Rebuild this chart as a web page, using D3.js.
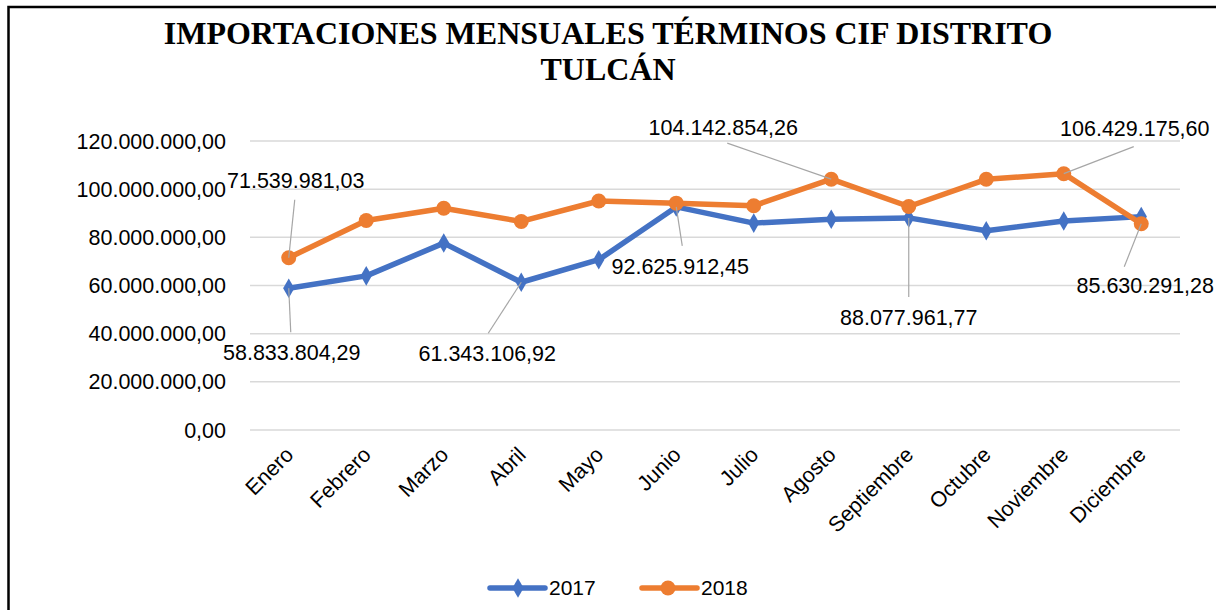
<!DOCTYPE html>
<html>
<head>
<meta charset="utf-8">
<script src="https://cdn.jsdelivr.net/npm/d3@7"></script>
<style>
  body { margin: 0; background: #fff; }
  svg { display: block; }
</style>
</head>
<body>
<div id="chart"></div>
<script>
//categories and series
const months = ["Enero", "Febrero", "Marzo", "Abril", "Mayo", "Junio", "Julio", "Agosto", "Septiembre", "Octubre", "Noviembre", "Diciembre"];
const values2017 = [58833804.29, 64000000, 77600000, 61343106.92, 70700000, 92625912.45, 85900000, 87500000, 88077961.77, 82700000, 86800000, 88600000];
const values2018 = [71539981.03, 87000000, 92100000, 86600000, 95100000, 94200000, 93100000, 104142854.26, 92800000, 104100000, 106429175.60, 85630291.28];
const yTicks = [0, 20000000, 40000000, 60000000, 80000000, 100000000, 120000000];

//which points carry a data label
const labeled2017 = [0, 3, 5, 8];
const labeled2018 = [0, 7, 10, 11];

//size
const width = 1216;
const height = 610;
const margin = { top: 141, right: 36, bottom: 180, left: 250 };
const innerWidth = width - margin.left - margin.right;
const innerHeight = 430 - margin.top;

const colors = { 2017: "#4472c4", 2018: "#ed7d31" };
const numFont = "'Liberation Sans', Arial, sans-serif";

//number format like 58.833.804,29
const locale = d3.formatLocale({ decimal: ",", thousands: ".", grouping: [3], currency: ["", ""] });
const fmt = locale.format(",.2f");

const svg = d3.select("#chart").append("svg")
  .attr("width", width)
  .attr("height", height);

//frame (only top and left edges are inside the picture)
svg.append("path")
  .attr("d", `M8.5,${height}V7H${width}`)
  .attr("fill", "none")
  .attr("stroke", "#000")
  .attr("stroke-width", 2.5);

//title
svg.append("text")
  .attr("text-anchor", "middle")
  .attr("font-family", "'Liberation Serif', 'Times New Roman', serif")
  .attr("font-weight", "bold")
  .attr("font-size", 32)
  .attr("fill", "#000")
  .call((t) => {
    t.append("tspan").attr("x", 608).attr("y", 44).text("IMPORTACIONES MENSUALES TÉRMINOS CIF DISTRITO");
    t.append("tspan").attr("x", 608).attr("y", 80).text("TULCÁN");
  });

//scales
const x = d3.scaleBand().domain(months).range([0, innerWidth]).padding(0);
const y = d3.scaleLinear().domain([0, 120000000]).range([innerHeight, 0]);
const cx = (m) => x(m) + x.bandwidth() / 2;

const g = svg.append("g").attr("transform", `translate(${margin.left},${margin.top})`);

//grid lines
g.append("g")
  .selectAll("line")
  .data(yTicks)
  .join("line")
  .attr("x1", 0).attr("x2", innerWidth)
  .attr("y1", (d) => y(d)).attr("y2", (d) => y(d))
  .attr("stroke", "#d9d9d9")
  .attr("stroke-width", 1.5);

//y axis labels
g.append("g")
  .selectAll("text")
  .data(yTicks)
  .join("text")
  .attr("x", -24)
  .attr("y", (d) => y(d))
  .attr("dy", "0.35em")
  .attr("text-anchor", "end")
  .attr("font-family", numFont)
  .attr("font-size", 21.5)
  .attr("fill", "#000")
  .text((d) => fmt(d));

//x axis labels
g.append("g")
  .selectAll("text")
  .data(months)
  .join("text")
  .attr("transform", (d) => `translate(${cx(d) + 6},${innerHeight + 26}) rotate(-45)`)
  .attr("text-anchor", "end")
  .attr("font-family", numFont)
  .attr("font-size", 21.5)
  .attr("fill", "#000")
  .text((d) => d);

//series
const series = [
  { name: "2017", values: values2017, labeled: labeled2017 },
  { name: "2018", values: values2018, labeled: labeled2018 },
];

const line = d3.line()
  .x((d, i) => cx(months[i]))
  .y((d) => y(d));

const diamond = d3.symbol().type(d3.symbolDiamond).size(110);

series.forEach((s) => {
  g.append("path")
    .datum(s.values)
    .attr("fill", "none")
    .attr("stroke", colors[s.name])
    .attr("stroke-width", 5.5)
    .attr("stroke-linejoin", "round")
    .attr("stroke-linecap", "round")
    .attr("d", line);

  const marks = g.append("g")
    .selectAll("g")
    .data(s.values)
    .join("g")
    .attr("transform", (d, i) => `translate(${cx(months[i])},${y(d)})`);

  if (s.name == "2017") {
    marks.append("path").attr("d", diamond).attr("fill", colors[s.name]);
  } else {
    marks.append("circle").attr("r", 7.5).attr("fill", colors[s.name]);
  }
});

//data label placement (offsets from the point: label centre and leader end)
const labelPos = {
  "2017-0": { dx: 3, dy: 64, lx: 2, ly: 44 },
  "2017-3": { dx: -34, dy: 71, lx: -33, ly: 51 },
  "2017-5": { dx: 4, dy: 60, lx: 6, ly: 39 },
  "2017-8": { dx: 0, dy: 100, lx: 0, ly: 79 },
  "2018-0": { dx: 7, dy: -77, lx: 6, ly: -58 },
  "2018-7": { dx: -108, dy: -52, lx: -104, ly: -36 },
  "2018-10": { dx: 71, dy: -45, lx: 70, ly: -27 },
  "2018-11": { dx: 4, dy: 62, lx: -17, ly: 43 },
};

const labels = series.flatMap((s) =>
  s.labeled.map((i) => ({ key: `${s.name}-${i}`, x: cx(months[i]), y: y(s.values[i]), value: s.values[i] }))
);

const lab = g.append("g")
  .selectAll("g")
  .data(labels)
  .join("g")
  .attr("transform", (d) => `translate(${d.x},${d.y})`);

lab.append("line")
  .attr("x1", 0).attr("y1", 0)
  .attr("x2", (d) => labelPos[d.key].lx)
  .attr("y2", (d) => labelPos[d.key].ly)
  .attr("stroke", "#a6a6a6")
  .attr("stroke-width", 1.2);

lab.append("text")
  .attr("x", (d) => labelPos[d.key].dx)
  .attr("y", (d) => labelPos[d.key].dy)
  .attr("dy", "0.35em")
  .attr("text-anchor", "middle")
  .attr("font-family", numFont)
  .attr("font-size", 21.5)
  .attr("fill", "#000")
  .text((d) => fmt(d.value));

//legend
const legend = svg.append("g").attr("transform", "translate(490,588)");
series.forEach((s, i) => {
  const item = legend.append("g").attr("transform", `translate(${i * 152},0)`);
  item.append("line")
    .attr("x1", 0).attr("x2", 55)
    .attr("stroke", colors[s.name])
    .attr("stroke-width", 5.5)
    .attr("stroke-linecap", "round");
  if (s.name == "2017") {
    item.append("path").attr("transform", "translate(28,0)").attr("d", diamond).attr("fill", colors[s.name]);
  } else {
    item.append("circle").attr("cx", 26).attr("r", 7.5).attr("fill", colors[s.name]);
  }
  item.append("text")
    .attr("x", 59)
    .attr("dy", "0.35em")
    .attr("font-family", numFont)
    .attr("font-size", 21)
    .attr("fill", "#000")
    .text(s.name);
});
</script>
</body>
</html>
